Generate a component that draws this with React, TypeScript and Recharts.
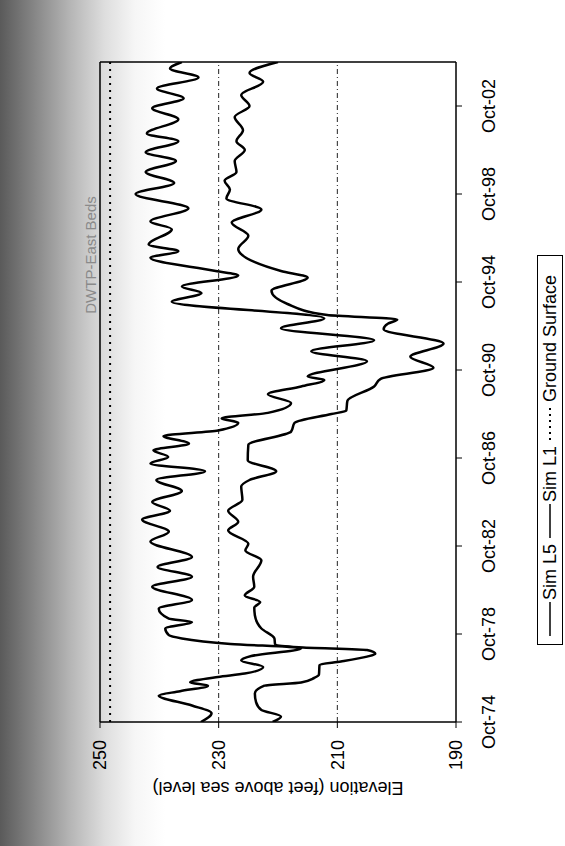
import { LineChart, Line, XAxis, YAxis, ReferenceLine, Legend } from 'recharts';

// time is years after Oct-1974
const xTicks = [0, 4, 8, 12, 16, 20, 24, 28];
const xTickLabels = ['Oct-74', 'Oct-78', 'Oct-82', 'Oct-86', 'Oct-90', 'Oct-94', 'Oct-98', 'Oct-02'];
const yTicks = [190, 210, 230, 250];

const l1Years = [
  0, 0.4, 0.75, 1.2, 1.4, 1.65, 1.8, 2.05, 2.2, 2.5, 2.8, 3.0, 3.35, 3.55, 3.8, 3.95,
  4.25, 4.55, 4.7, 5.15, 5.55, 6.15, 6.6, 7.05, 7.5, 8.2, 8.65, 9.2, 9.6, 10.0, 10.5,
  11.0, 11.4, 11.75, 12.05, 12.35, 12.65, 13.0, 13.25, 13.6, 13.8, 14.05, 14.5, 14.9,
  15.25, 15.55, 15.7, 16.4, 16.85, 17.35, 17.9, 18.35, 19.1, 19.5, 19.8, 20.3, 20.5,
  21.1, 21.4, 21.7, 22.4, 22.75, 23.35, 24.0, 24.5, 25.0, 25.5, 25.9, 26.4, 26.75,
  27.4, 27.9, 28.35, 28.8, 29.3, 29.7, 30.0,
];
const l1Elev = [
  233.0, 231.2, 234.5, 240.1, 236.5, 231.8, 234.8, 230.1, 225.6, 222.5, 226.2, 224.5, 216.1, 228.0, 236.2, 238.4,
  239.0, 234.5, 238.4, 240.1, 234.5, 241.2, 234.5, 240.3, 234.5, 241.5, 238.4, 242.9, 238.2, 241.2, 236.2,
  240.5, 232.3, 241.5, 238.5, 241.0, 235.0, 239.3, 230.1, 226.7, 229.5, 221.7, 217.8, 221.7,
  216.1, 212.2, 215.0, 205.0, 214.4, 203.8, 219.5, 212.2, 237.9, 232.9, 236.2, 226.7, 230.5,
  241.5, 236.8, 241.8, 237.9, 241.5, 235.1, 244.0, 237.5, 242.3, 237.2, 242.3, 236.8, 242.1,
  236.8, 241.2, 235.9, 240.4, 233.4, 238.2, 236.2,
];

const l5Years = [
  0, 0.25, 0.55, 0.9, 1.3, 1.65, 1.8, 2.0, 2.15, 2.6, 2.75, 2.97, 3.1, 3.27, 3.4, 3.55,
  3.8, 4.25, 4.85, 5.2, 5.45, 5.75, 6.15, 6.6, 7.35, 7.8, 8.1, 8.7, 9.1, 9.6, 10.1, 10.7,
  11.0, 11.4, 11.9, 12.6, 13.2, 13.6, 14.0, 14.15, 14.6, 15.25, 15.6, 16.1, 16.6, 17.2,
  17.85, 18.1, 18.3, 18.5, 19.0, 19.6, 20.2, 20.5, 20.9, 21.5, 22.1, 22.7, 23.3, 23.8,
  24.2, 24.6, 25.0, 25.5, 26.0, 26.4, 26.9, 27.5, 28.0, 28.5, 29.1, 29.5, 30.0,
];
const l5Elev = [
  220.9, 219.5, 222.8, 223.7, 223.9, 222.3, 216.1, 213.9, 213.1, 213.0, 209.4, 205.0, 203.6, 205.0, 216.5, 220.5,
  220.6, 222.8, 223.9, 224.0, 223.0, 225.6, 224.0, 224.2, 222.8, 225.5, 225.0, 228.4, 226.7, 228.4, 226.0, 226.2,
  224.8, 220.3, 225.1, 225.0, 217.8, 217.2, 211.0, 208.5, 208.3, 203.8, 202.7, 193.8, 197.7, 192.1,
  202.2, 201.5, 199.9, 211.7, 218.4, 221.1, 215.0, 219.5, 223.9, 226.7, 225.0, 227.8, 222.8, 228.7,
  228.1, 229.0, 227.0, 227.3, 225.6, 227.0, 225.9, 227.3, 224.8, 226.2, 222.5, 224.8, 220.0,
];

const groundYears = [0, 30];
const groundElev = [248.3, 248.3];

const toPoints = (ts: number[], vs: number[]) => ts.map((t, i) => ({ t, v: vs[i] }));

const font = '"Liberation Sans", Arial, sans-serif';

const Sample = ({ dotted }: { dotted?: boolean }) => (
  <svg width={34} height={10} style={{ display: 'block' }}>
    <line
      x1={0}
      y1={5}
      x2={34}
      y2={5}
      stroke="#000"
      strokeWidth={dotted ? 2 : 1.5}
      strokeDasharray={dotted ? '2 4' : undefined}
    />
  </svg>
);

const LegendBox = () => (
  <div
    style={{
      display: 'flex',
      alignItems: 'center',
      border: '1px solid #000',
      height: 26,
      width: 390,
      boxSizing: 'border-box',
      padding: '0 8px',
      fontFamily: font,
      fontSize: 18,
      color: '#000',
      background: '#fff',
    }}
  >
    <Sample />
    <span style={{ margin: '0 6px 0 2px' }}>Sim L5</span>
    <Sample />
    <span style={{ margin: '0 6px 0 2px' }}>Sim L1</span>
    <Sample dotted />
    <span style={{ marginLeft: 4 }}>Ground Surface</span>
  </div>
);

export default function App() {
  return (
    <div
      style={{
        position: 'absolute',
        left: 0,
        top: 0,
        width: 565,
        height: 846,
        overflow: 'hidden',
        background:
          'linear-gradient(to right, #5a5a5a 0px, #878787 35px, #b5b5b5 70px, #dedede 105px, #f6f6f6 135px, #ffffff 165px)',
      }}
    >
      <div
        style={{
          position: 'absolute',
          left: 0,
          top: 846,
          width: 846,
          height: 565,
          transform: 'rotate(-90deg)',
          transformOrigin: '0 0',
        }}
      >
        <LineChart width={846} height={565} margin={{ top: 100, right: 62, bottom: 49, left: 64 }}>
          <XAxis
            type="number"
            dataKey="t"
            domain={[0, 30]}
            ticks={xTicks}
            tickFormatter={(v) => xTickLabels[xTicks.indexOf(v)]}
            height={60}
            tickSize={6}
            tickMargin={20}
            interval={0}
            allowDataOverflow
            axisLine={{ stroke: '#000', strokeWidth: 1.5 }}
            tickLine={{ stroke: '#000' }}
            tick={{ fill: '#000', fontSize: 18, fontFamily: font }}
          />
          <YAxis
            type="number"
            domain={[190, 250]}
            ticks={yTicks}
            width={60}
            tickSize={6}
            tickMargin={12}
            interval={0}
            allowDataOverflow
            axisLine={{ stroke: '#000', strokeWidth: 1.5 }}
            tickLine={{ stroke: '#000' }}
            tick={{ fill: '#000', fontSize: 18, fontFamily: font }}
          />
          <ReferenceLine y={230} stroke="#222" strokeWidth={1} strokeDasharray="5 3 1 3" />
          <ReferenceLine y={210} stroke="#222" strokeWidth={1} strokeDasharray="5 3 1 3" />
          <ReferenceLine y={250} stroke="#000" strokeWidth={1.5} />
          <ReferenceLine x={30} stroke="#000" strokeWidth={1.5} />
          <Line
            data={toPoints(groundYears, groundElev)}
            dataKey="v"
            name="Ground Surface"
            type="linear"
            stroke="#000"
            strokeWidth={2}
            strokeDasharray="2 5"
            dot={false}
            isAnimationActive={false}
          />
          <Line
            data={toPoints(l1Years, l1Elev)}
            dataKey="v"
            name="Sim L1"
            type="monotone"
            stroke="#000"
            strokeWidth={2.5}
            dot={false}
            isAnimationActive={false}
          />
          <Line
            data={toPoints(l5Years, l5Elev)}
            dataKey="v"
            name="Sim L5"
            type="monotone"
            stroke="#000"
            strokeWidth={2.5}
            dot={false}
            isAnimationActive={false}
          />
          <Legend
            verticalAlign="middle"
            content={() => <LegendBox />}
            wrapperStyle={{ left: 201, top: 537, right: 'auto', bottom: 'auto', width: 390 }}
          />
        </LineChart>
        <div
          style={{
            position: 'absolute',
            left: 59,
            top: 278,
            transform: 'translate(-50%, -50%) rotate(-90deg)',
            whiteSpace: 'nowrap',
            fontFamily: font,
            fontSize: 18,
            color: '#000',
          }}
        >
          Elevation (feet above sea level)
        </div>
        <div
          style={{
            position: 'absolute',
            left: 591,
            top: 90,
            transform: 'translate(-50%, -50%)',
            whiteSpace: 'nowrap',
            fontFamily: font,
            fontSize: 15,
            color: '#8a8a8a',
          }}
        >
          DWTP-East Beds
        </div>
      </div>
    </div>
  );
}
